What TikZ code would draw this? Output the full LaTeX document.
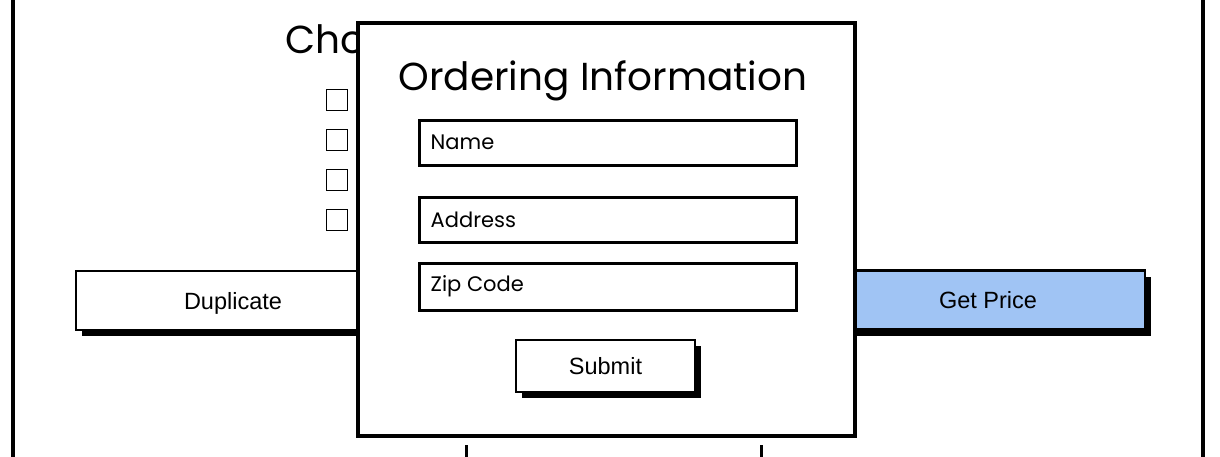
\documentclass[tikz,border=0pt]{standalone}
\usepackage{fontspec}
\setmainfont{Poppins}
\newfontfamily\btnfont{Liberation Sans}
\usetikzlibrary{positioning,shadows}
\definecolor{priceblue}{HTML}{A0C4F4}

\begin{document}
\begin{tikzpicture}[x=1pt,y=-1pt,
  frame/.style={black, line width=3.5pt},
  button/.style={draw=black, fill=white, line width=2.5pt, inner sep=0pt,
    minimum height=59pt, text height=17pt, text depth=0pt,
    font=\btnfont\fontsize{23.5}{24}\selectfont,
    drop shadow={shadow xshift=6pt, shadow yshift=-6pt, fill=black, opacity=1}},
  field/.style={draw=black, fill=white, line width=3pt, inner sep=0pt,
    minimum width=377pt, minimum height=45pt,
    drop shadow={shadow xshift=2pt, shadow yshift=-2pt, fill=black, opacity=1}},
  fieldtext/.style={font=\fontsize{21}{24}\selectfont, inner sep=0pt},
  heading/.style={font=\fontsize{39}{44}\selectfont, inner sep=0pt},
  checkbox/.style={draw=black, line width=1.8pt, minimum size=21pt, inner sep=0pt}]
\clip (0,0) rectangle (1220,456);

% outer window
\draw[frame] (13,-10) rectangle (1203,470);
\node[heading, anchor=base west] (choose) at (285,53) {Cho};
\foreach \y [count=\i] in {100,140,180,220}
  \node[checkbox] (box\i) at (337,\y) {};
\node[button, minimum width=314pt] (duplicate) at (233,300.5) {Duplicate};
\node[button, minimum width=314pt, fill=priceblue] (price) at (988,300) {Get Price};

% dialog
\draw[line width=3.5pt, fill=white] (358,23) rectangle (855,436);
\node[heading, anchor=base] (title) at (603,90) {Ordering Information};
\node[field] (name) at (607.5,142.5) {};
\node[field] (address) at (607.5,219.5) {};
\node[field, minimum height=47pt] (zip) at (607.5,286.5) {};
\node[fieldtext, right=13pt of name.west] (nametext) {Name};
\node[fieldtext, right=13pt of address.west] (addresstext) {Address};
\node[fieldtext, right=13pt of zip.west] (ziptext) {Zip Code};
\node[button, minimum width=179pt, minimum height=52pt] (submit) at (605.5,366) {Submit};

% next frames below
\draw[line width=3pt] (466,445) -- (466,460);
\draw[line width=3pt] (761,445) -- (761,460);
\end{tikzpicture}
\end{document}
